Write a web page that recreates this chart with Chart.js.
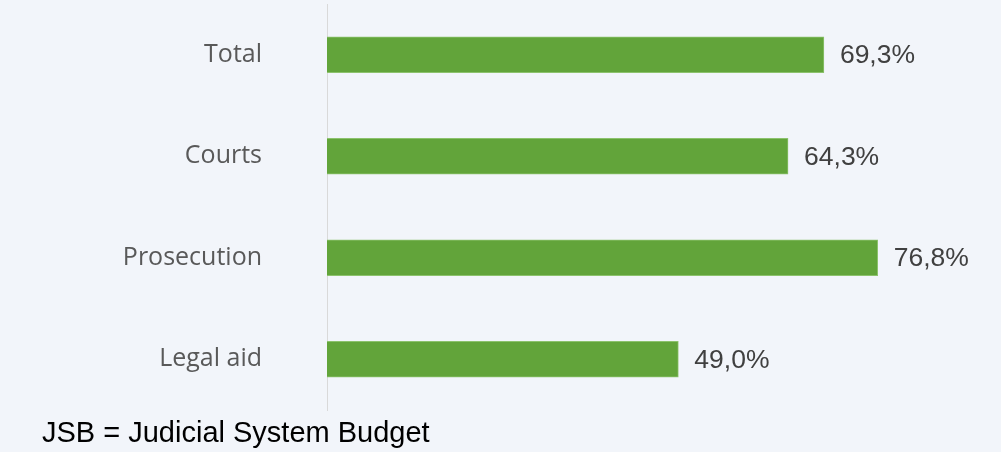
<!DOCTYPE html>
<html lang="en">
<head>
    <meta charset="UTF-8">
    <title>JSB share</title>
    <script src="https://cdn.jsdelivr.net/npm/chart.js"></script>
    <style>
        html, body { margin: 0; padding: 0; background: #f2f5fa; }
        .wrap { position: relative; width: 1001px; height: 452px; }
        #jsbChart { position: absolute; left: 0; top: 0; }
        .note {
            position: absolute; left: 42px; top: 418px;
            font-family: "Liberation Sans", Arial, sans-serif;
            font-size: 29px; line-height: 29px; color: #000;
            white-space: nowrap;
        }
    </style>
</head>
<body>
    <div class="wrap">
        <canvas id="jsbChart" width="1001" height="452"></canvas>
        <div class="note">JSB = Judicial System Budget</div>
    </div>

<script>
    const categories = ['Total', 'Courts', 'Prosecution', 'Legal aid'];
    const shareValues = [69.3, 64.3, 76.8, 49.0];

    // value labels drawn next to each bar end
    const valueLabels = {
        id: 'valueLabels',
        afterDatasetsDraw(chart) {
            const ctx = chart.ctx;
            const meta = chart.getDatasetMeta(0);
            ctx.save();
            ctx.font = '26.5px "Liberation Sans", Arial, sans-serif';
            ctx.fillStyle = '#404040';
            ctx.textAlign = 'left';
            ctx.textBaseline = 'middle';
            meta.data.forEach((bar, i) => {
                const txt = shareValues[i].toFixed(1).replace('.', ',') + '%';
                ctx.fillText(txt, bar.x + 16, bar.y + 1);
            });
            ctx.restore();
        }
    };

    const ctx = document.getElementById('jsbChart').getContext('2d');
    new Chart(ctx, {
        type: 'bar',
        data: {
            labels: categories,
            datasets: [{
                data: shareValues,
                backgroundColor: '#62a43a',
                borderColor: '#8cc26c',
                borderWidth: 1,
                barThickness: 36
            }]
        },
        options: {
            indexAxis: 'y',
            responsive: false,
            animation: false,
            layout: { padding: { top: 4, bottom: 42, left: 0, right: 0 } },
            plugins: {
                legend: { display: false },
                tooltip: { enabled: false }
            },
            scales: {
                x: {
                    display: false,
                    min: 0,
                    max: 94
                },
                y: {
                    afterFit: (scale) => {
                        scale.width = 327;
                        // tick padding would otherwise push the plot area down
                        scale.paddingTop = 0;
                        scale.paddingBottom = 0;
                    },
                    grid: { display: false, drawTicks: false },
                    border: { display: true, color: '#d9d9d9', width: 1 },
                    ticks: {
                        padding: 65,
                        color: '#595959',
                        font: { family: '"Open Sans", sans-serif', size: 25 }
                    }
                }
            }
        },
        plugins: [valueLabels]
    });
</script>
</body>
</html>
